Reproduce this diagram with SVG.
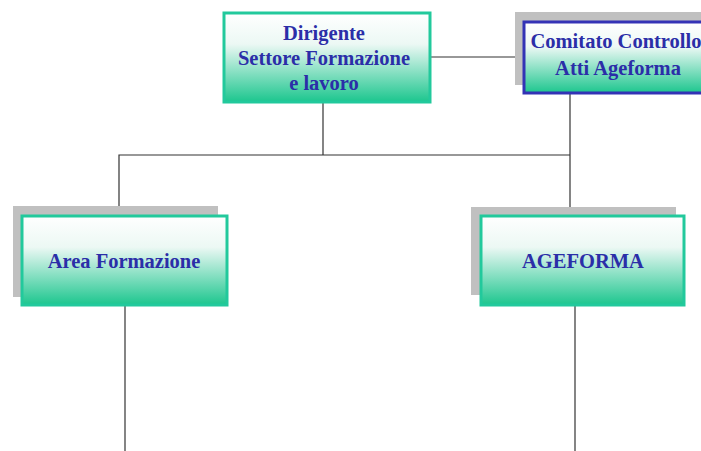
<svg xmlns="http://www.w3.org/2000/svg" width="701" height="451" viewBox="0 0 701 451">
<defs>
<linearGradient id="g" x1="0" y1="0" x2="0" y2="1">
<stop offset="0" stop-color="#ffffff"/>
<stop offset="0.35" stop-color="#ecf8f4"/>
<stop offset="1" stop-color="#1cc68e"/>
</linearGradient>
<style>
.box{fill:url(#g);stroke:#22c99c;stroke-width:3}
.boxb{fill:url(#g);stroke:#3333b5;stroke-width:3}
.sh{fill:#c0c0c0}
.t{font-family:"Liberation Serif","Times New Roman",serif;font-weight:bold;font-size:20.5px;fill:#2b2ea8;text-anchor:middle}
.c{fill:none;stroke:#333333;stroke-width:1.2}
</style>
</defs>
<rect width="701" height="451" fill="#ffffff"/>
<g id="connectors">
<line class="c" x1="430" y1="57" x2="523" y2="57" stroke="#777"/>
<polyline class="c" points="323,102 323,155"/>
<polyline class="c" points="119,215 119,155 570,155"/>
<polyline class="c" points="570,93 570,215"/>
<line class="c" x1="125" y1="305" x2="125" y2="451"/>
<line class="c" x1="575" y1="305" x2="575" y2="451"/>
</g>
<g id="dirigente">
<rect class="box" x="224" y="13" width="206" height="89"/>
<text class="t" x="324" y="40">Dirigente</text>
<text class="t" x="324" y="65">Settore Formazione</text>
<text class="t" x="324" y="90">e lavoro</text>
</g>
<g id="comitato">
<rect class="sh" x="515" y="12" width="200" height="73"/>
<rect class="boxb" x="524" y="22" width="190" height="71"/>
<text class="t" x="616" y="48">Comitato Controllo</text>
<text class="t" x="618" y="75">Atti Ageforma</text>
</g>
<g id="area-formazione">
<rect class="sh" x="13" y="206" width="205" height="91"/>
<rect class="box" x="22" y="216" width="205" height="89"/>
<text class="t" x="124" y="268">Area Formazione</text>
</g>
<g id="ageforma">
<rect class="sh" x="471" y="207" width="205" height="88"/>
<rect class="box" x="481" y="216" width="203" height="89"/>
<text class="t" x="583" y="268">AGEFORMA</text>
</g>
</svg>
